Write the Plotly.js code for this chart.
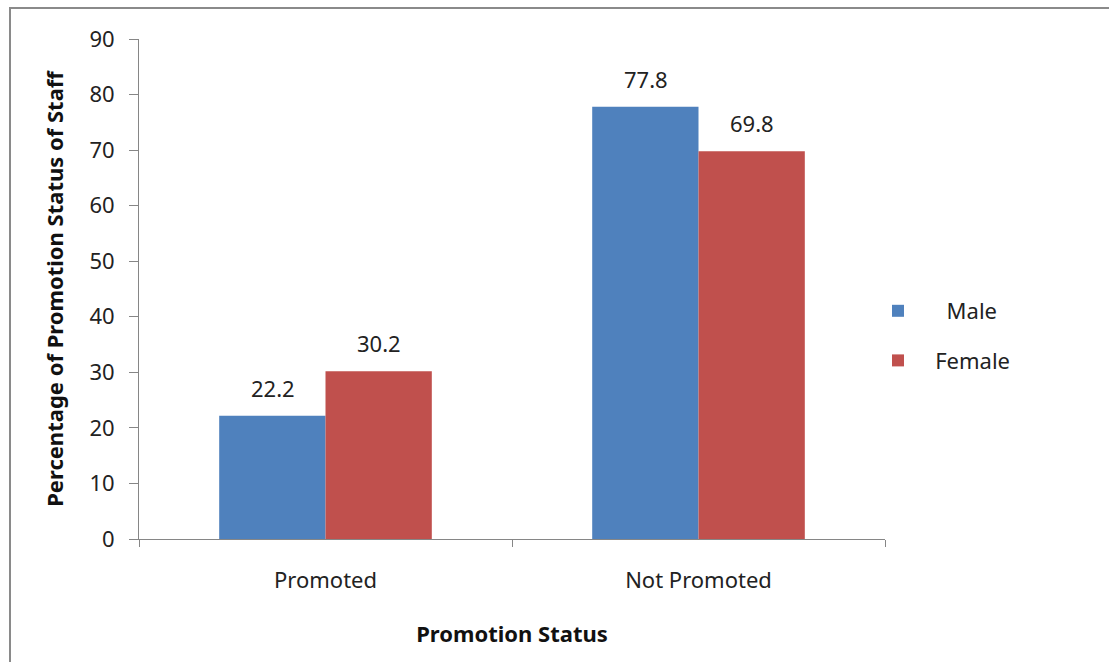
<!DOCTYPE html>
<html>
<head>
<meta charset="utf-8">
<script src="https://cdn.plot.ly/plotly-3.0.1.min.js"></script>
<style>html,body{margin:0;padding:0;background:#fff;}#chart{width:1109px;height:662px;}</style>
</head>
<body>
<div id="chart"></div>
<script>
const categories = ["Promoted", "Not Promoted"];
const maleValues = [22.2, 77.8];
const femaleValues = [30.2, 69.8];
const seriesNames = ["Male", "Female"];
const yTickValues = [0, 10, 20, 30, 40, 50, 60, 70, 80, 90];

const FONT = "Noto Sans, Open Sans, sans-serif";
const FS = 22;

const traces = [
  {type: "bar", name: "     " + seriesNames[0], x: categories, y: maleValues,
   marker: {color: "#4F81BD"}, legendgroup: "m"},
  {type: "bar", name: "   " + seriesNames[1], x: categories, y: femaleValues,
   marker: {color: "#C0504D"}, legendgroup: "f"}
];

const labelAnnotations = [];
[maleValues, femaleValues].forEach((vals, si) => {
  vals.forEach((v, ci) => {
    labelAnnotations.push({
      x: categories[ci], y: v, xref: "x", yref: "y",
      text: v.toFixed(1), showarrow: false, yanchor: "bottom",
      xshift: si === 0 ? -53 : 53, yshift: 11,
      font: {family: FONT, size: FS, color: "#222"}
    });
  });
});

const layout = {
  width: 1109, height: 662,
  margin: {l: 139, r: 224, t: 39, b: 123},
  paper_bgcolor: "#fff", plot_bgcolor: "#fff",
  font: {family: FONT, size: FS, color: "#222"},
  barmode: "group", bargap: 0.43, bargroupgap: 0,
  showlegend: true,
  legend: {x: 0.9906, y: 0.406, yanchor: "middle", xanchor: "left",
           tracegroupgap: 18, font: {family: FONT, size: FS, color: "#222"},
           itemwidth: 30},
  annotations: labelAnnotations,
  xaxis: {
    type: "category", showline: true, linecolor: "#868686", linewidth: 1,
    ticks: "outside", tickson: "boundaries", ticklen: 7, tickcolor: "#868686",
    showgrid: false, zeroline: false, ticklabelstandoff: 22,
    tickfont: {family: FONT, size: FS, color: "#222"},
    title: {text: "<b>Promotion Status</b>", standoff: 33,
            font: {family: FONT, size: FS, color: "#111"}}
  },
  yaxis: {
    range: [0, 90], tickvals: yTickValues, showline: true, linecolor: "#868686",
    linewidth: 1, ticks: "outside", ticklen: 9, tickcolor: "#868686",
    showgrid: false, zeroline: false, ticklabelstandoff: 10,
    tickfont: {family: FONT, size: FS, color: "#222"},
    title: {text: "<b>Percentage of Promotion Status of Staff</b>", standoff: 19,
            font: {family: FONT, size: FS, color: "#111"}}
  },
  shapes: [{type: "rect", xref: "paper", yref: "paper",
            x0: (10 - 139) / 746, x1: (1120 - 139) / 746,
            y0: -(680 - 539) / 500, y1: (539 - 8) / 500,
            line: {color: "#8a8a8a", width: 2}, fillcolor: "rgba(0,0,0,0)"}]
};

Plotly.newPlot("chart", traces, layout, {displayModeBar: false, staticPlot: true});
</script>
</body>
</html>
